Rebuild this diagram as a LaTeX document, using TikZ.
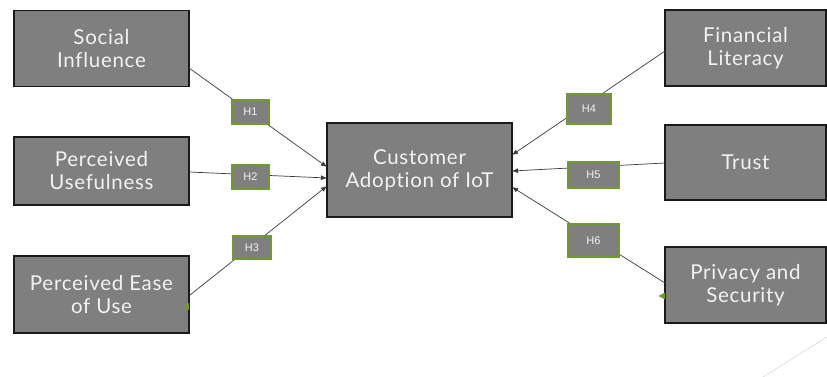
\documentclass[tikz,border=0pt]{standalone}
\usepackage{fontspec}
\setmainfont{Lato}[Ligatures={NoCommon}, LetterSpace=3.5]
\newfontfamily\hfont{Liberation Sans}
\usetikzlibrary{arrows.meta}
\definecolor{boxgray}{HTML}{7F7F7F}
\definecolor{boxline}{HTML}{1A1A1A}
\definecolor{hgreen}{HTML}{6E9A2E}
\definecolor{txt}{HTML}{F2F2F2}
\definecolor{conn}{HTML}{3A3A3A}
\tikzset{
  factor/.style={draw=boxline, line width=1.4pt, fill=boxgray, text=txt,
    font=\fontsize{20.5}{23}\selectfont, align=center, inner sep=0pt},
  hbox/.style={draw=hgreen, line width=1.3pt, fill=boxgray, text=txt,
    font=\hfont\fontsize{11}{12}\selectfont, inner sep=0pt},
  link/.style={draw=conn, line width=0.7pt},
  arr/.style={link, -{Latex[length=6pt,width=5pt]}},
  greenmark/.style={fill=hgreen, draw=none}
}
\begin{document}
\begin{tikzpicture}[x=1pt,y=-1pt]
\useasboundingbox (0,0) rectangle (827,377);
% boxes
\node[factor, minimum width=175pt, minimum height=76pt] (si) at (101.5,48.5) {Social\\Influence};
\node[factor, minimum width=175pt, minimum height=68pt] (pu) at (101.5,171) {Perceived\\Usefulness};
\node[factor, minimum width=175pt, minimum height=77pt] (peu) at (101.5,294.5) {Perceived Ease\\of Use};
\node[factor, minimum width=185pt, minimum height=94pt] (cai) at (419.5,170) {Customer\\Adoption of IoT};
\node[factor, minimum width=161pt, minimum height=76pt] (fl) at (745.5,48) {Financial\\Literacy};
\node[factor, minimum width=161pt, minimum height=75pt] (tr) at (745.5,162.5) {Trust};
\node[factor, minimum width=161pt, minimum height=76pt] (ps) at (745.5,285) {Privacy and\\Security};
% connector end points
\coordinate (s1) at (189,68);   \coordinate (t1) at (327,167);
\coordinate (s2) at (189,172);  \coordinate (t2) at (327,178);
\coordinate (s3) at (190,295);  \coordinate (t3) at (327,186);
\coordinate (s4) at (665,51);   \coordinate (t4) at (512,155);
\coordinate (s5) at (665,163);  \coordinate (t5) at (512,171);
\coordinate (s6) at (665,283);  \coordinate (t6) at (512,187);
\draw[arr] (s1) -- (t1);
\draw[arr] (s2) -- (t2);
\draw[arr] (s3) -- (t3);
\draw[arr] (s4) -- (t4);
\draw[arr] (s5) -- (t5);
\draw[arr] (s6) -- (t6);
% hypothesis labels
\node[hbox, minimum width=37pt, minimum height=24pt] (h1) at (250.5,112) {H1};
\node[hbox, minimum width=37pt, minimum height=24pt] (h2) at (250.5,177) {H2};
\node[hbox, minimum width=38pt, minimum height=23pt] (h3) at (252,247.5) {H3};
\node[hbox, minimum width=44pt, minimum height=30pt] (h4) at (589,109) {H4};
\node[hbox, minimum width=51pt, minimum height=26pt] (h5) at (593.5,175) {H5};
\node[hbox, minimum width=51pt, minimum height=33pt] (h6) at (593.5,240.5) {H6};
% small green markers
\fill[greenmark] (182.5,306.5) -- (189,303) -- (189,310) -- cycle;
\fill[greenmark] (658.5,296) -- (665,292.5) -- (665,299.5) -- cycle;
% decorative line
\draw[draw=black!15, line width=0.6pt] (763,377) -- (827,337);
\end{tikzpicture}
\end{document}
